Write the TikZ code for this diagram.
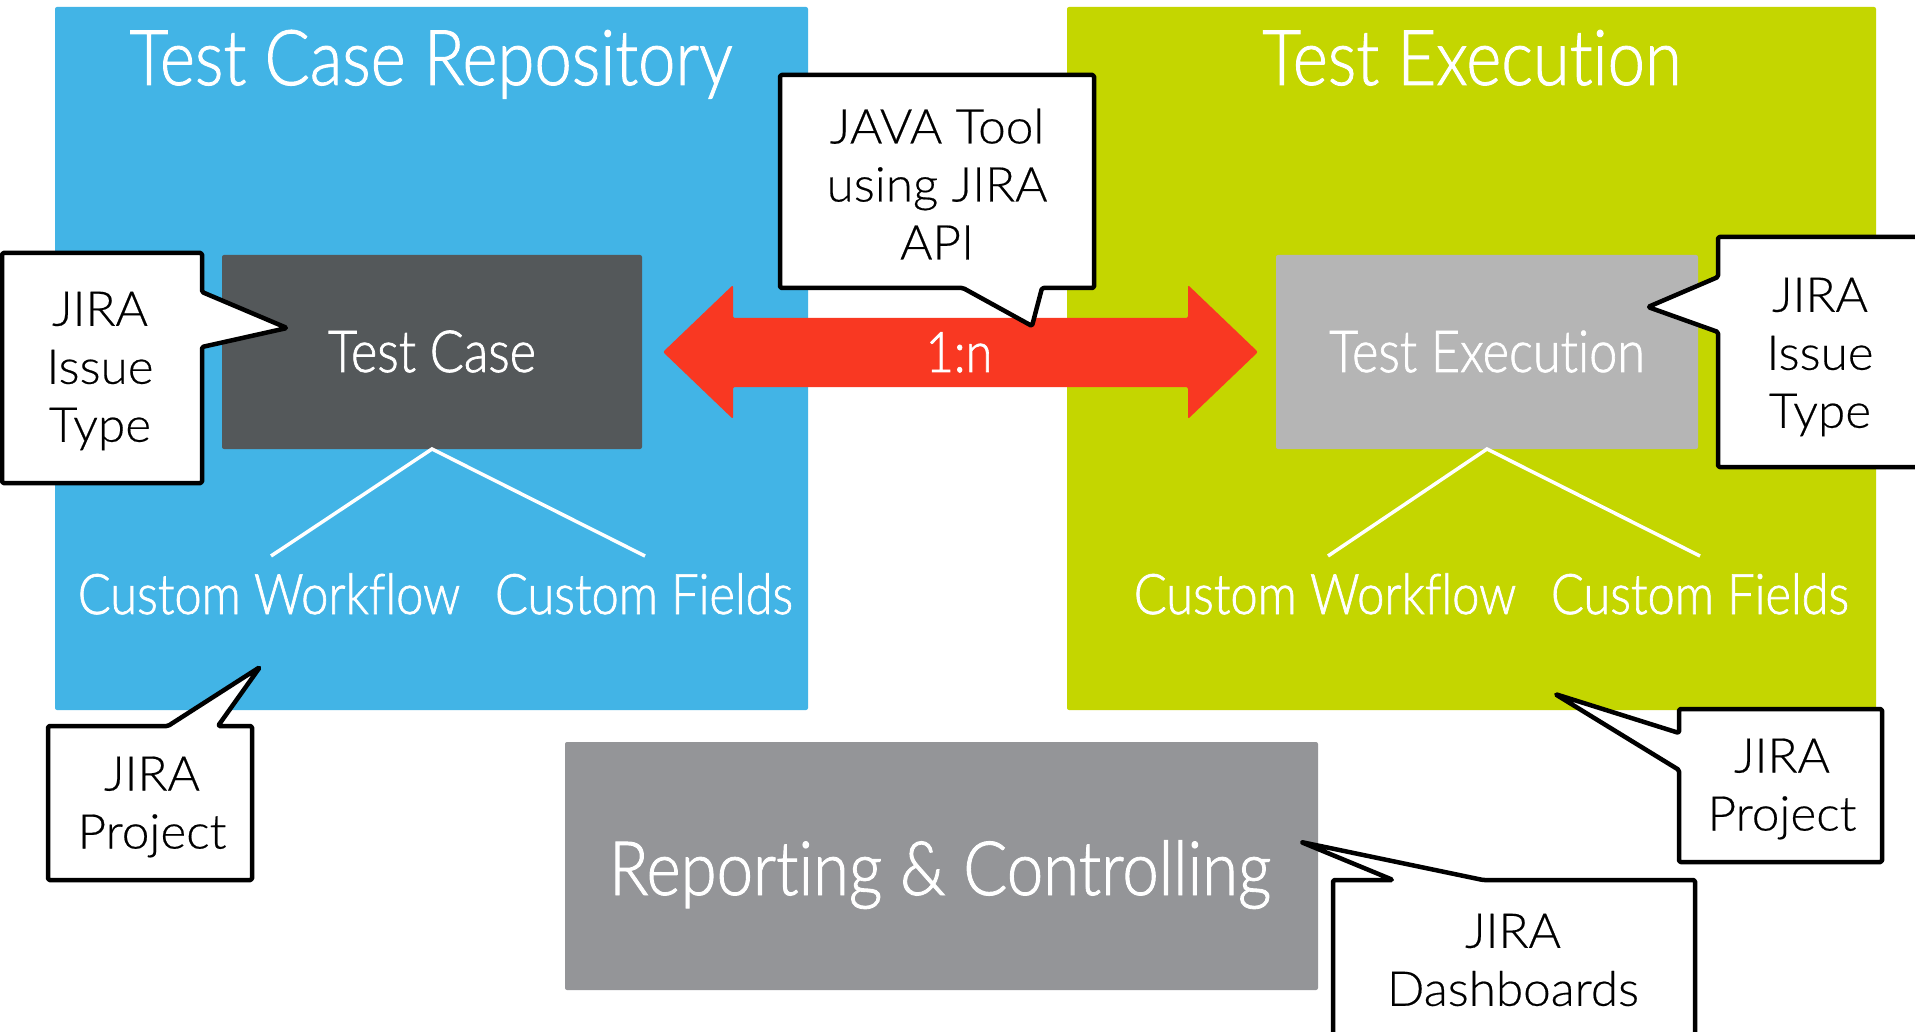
\documentclass[tikz,border=0pt]{standalone}
\usepackage{fontspec}
\setmainfont{Lato Light}[FakeStretch=0.87,FakeBold=1.2,Ligatures={NoCommon}]
\newfontfamily\calfont{Lato Light}[FakeStretch=1.03,FakeBold=0.4,Ligatures={NoCommon}]
\usetikzlibrary{calc}
\definecolor{cblue}{HTML}{42B4E6}
\definecolor{cgreen}{HTML}{C4D600}
\definecolor{cdark}{HTML}{54585A}
\definecolor{clight}{HTML}{B5B5B5}
\definecolor{cred}{HTML}{F93822}
\definecolor{cgray}{HTML}{949598}
\begin{document}
\begin{tikzpicture}[x=1pt,y=-1pt,
  area/.style={fill=#1,draw=none,rounded corners=2pt,inner sep=0pt,outer sep=0pt,anchor=north west},
  title/.style={text=white,font=\fontsize{77}{90}\selectfont,inner sep=0pt,anchor=base},
  boxtext/.style={text=white,font=\fontsize{58}{66}\selectfont,inner sep=0pt,anchor=base},
  subtext/.style={text=white,font=\fontsize{56}{66}\selectfont,inner sep=0pt,anchor=base},
  wline/.style={draw=white,line width=3.5pt},
  callout/.style={draw=black,fill=white,line width=4.5pt,line join=round,rounded corners=1.5pt},
  ctext/.style={text=black,font=\calfont\fontsize{48}{58}\selectfont,align=center,inner sep=0pt}]
\useasboundingbox[fill=white] (0,0) rectangle (1915,1032);

% big areas
\node[area=cblue,minimum width=753pt,minimum height=703pt] (repo) at (55,7) {};
\node[area=cgreen,minimum width=809pt,minimum height=703pt] (exec) at (1067,7) {};
\node[area=cgray,minimum width=753pt,minimum height=248pt] (rep) at (565,742) {};
\node[text=white,font=\fontsize{75}{90}\selectfont,inner sep=0pt,anchor=base] (reptxt) at (940,895) {Reporting \& Controlling};

\node[title] (repotitle) at (431,85) {Test Case Repository};
\node[title] (exectitle) at (1472,85) {Test Execution};

% inner boxes
\node[area=cdark,minimum width=420pt,minimum height=194pt] (tc) at (222,255) {};
\node[boxtext] (tctxt) at (432,372) {Test Case};
\node[area=clight,minimum width=422pt,minimum height=194pt] (te) at (1276,255) {};
\node[boxtext] (tetxt) at (1487,372) {Test Execution};

% sub items
\node[subtext] (cw1) at (269,614) {Custom Workflow};
\node[subtext] (cf1) at (644,614) {Custom Fields};
\node[subtext] (cw2) at (1325,614) {Custom Workflow};
\node[subtext] (cf2) at (1700,614) {Custom Fields};
\coordinate (cw1t) at (271,556);
\coordinate (cf1t) at (645,556);
\coordinate (cw2t) at (1328,556);
\coordinate (cf2t) at (1700,556);
\draw[wline] (cw1t) -- (tc.south) -- (cf1t);
\draw[wline] (cw2t) -- (te.south) -- (cf2t);

% red double arrow
\path[fill=cred,rounded corners=2pt] (663,352) -- (733,285) -- (733,318) -- (1188,318) -- (1188,285)
  -- (1258,352) -- (1188,419) -- (1188,387) -- (733,387) -- (733,419) -- cycle;
\node[subtext] (rel) at (959,372) {1:n};

% callouts
\draw[callout] (780,75) -- (1094,75) -- (1094,288) -- (1042,288) -- (1032,326) -- (963,288) -- (780,288) -- cycle;
\node[ctext] (java) at (937,184) {JAVA Tool\\using JIRA\\API};

\draw[callout] (2,253) -- (202,253) -- (202,292) -- (287,328) -- (202,347) -- (202,483) -- (2,483) -- cycle;
\node[ctext] (lit) at (100,371) {JIRA\\Issue\\Type};

\draw[callout] (1718,237) -- (1930,237) -- (1930,467) -- (1718,467) -- (1718,332) -- (1648,307) -- (1718,277) -- cycle;
\node[ctext] (rit) at (1820,357) {JIRA\\Issue\\Type};

\draw[callout] (48,726) -- (168,726) -- (260,667) -- (218,726) -- (252,726) -- (252,880) -- (48,880) -- cycle;
\node[ctext] (lp) at (152,807) {JIRA\\Project};

\draw[callout] (1679,709) -- (1882,709) -- (1882,862) -- (1679,862) -- (1679,770) -- (1555,694) -- (1679,733) -- cycle;
\node[ctext] (rp) at (1782,789) {JIRA\\Project};

\draw[callout] (1333,880) -- (1393,880) -- (1301,842) -- (1483,880) -- (1695,880) -- (1695,1045) -- (1333,1045) -- cycle;
\node[ctext] (dash) at (1513,960) {JIRA\\Dashboards};
\end{tikzpicture}
\end{document}
